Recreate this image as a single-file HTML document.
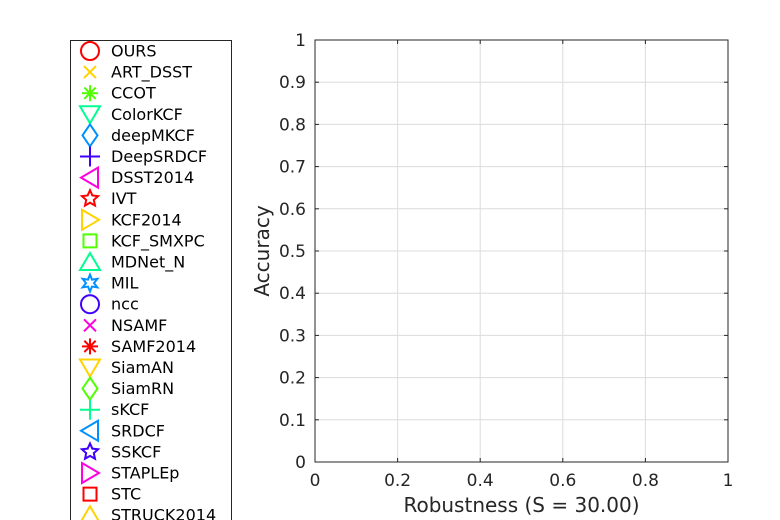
<!DOCTYPE html>
<html><head><meta charset="utf-8"><style>
html,body{margin:0;padding:0;background:#fff;width:780px;height:520px;overflow:hidden}
svg{display:block;font-family:"DejaVu Sans","Liberation Sans",sans-serif}
</style></head><body>
<svg id="chart" width="780" height="520"></svg>
<script>
const xTicks=[0,0.2,0.4,0.6,0.8,1];
const yTicks=[0,0.1,0.2,0.3,0.4,0.5,0.6,0.7,0.8,0.9,1];
const trackers=["OURS","ART_DSST","CCOT","ColorKCF","deepMKCF","DeepSRDCF","DSST2014","IVT","KCF2014","KCF_SMXPC","MDNet_N","MIL","ncc","NSAMF","SAMF2014","SiamAN","SiamRN","sKCF","SRDCF","SSKCF","STAPLEp","STC","STRUCK2014"];
const markers=["o","x","*","v","d","+","<","p",">","s","^","h","o","x","*","v","d","+","<","p",">","s","^"];
const colors=["#ff0000","#ffd200","#50ff00","#00ff90","#0090ff","#4000ff","#ff00e0"];
const robustness=[];
const accuracy=[];
const NS="http://www.w3.org/2000/svg";
const svg=document.getElementById('chart');
const L=315,R=728,T=40,B=462;
const xs=v=>L+(R-L)*v, ys=v=>B-(B-T)*v;
function mk(tag,attrs,parent){const e=document.createElementNS(NS,tag);for(const k in attrs)e.setAttribute(k,attrs[k]);(parent||svg).appendChild(e);return e;}
const ax=mk('g',{});


mk('rect',{x:L,y:T,width:R-L,height:B-T,fill:'#fff'},ax);
xTicks.forEach(t=>{const x=xs(t);
 if(t>0&&t<1)mk('line',{x1:x,y1:T,x2:x,y2:B,stroke:'#dcdcdc','stroke-width':1},ax);
 mk('line',{x1:x,y1:B,x2:x,y2:B-4,stroke:'#262626'},ax);mk('line',{x1:x,y1:T,x2:x,y2:T+4,stroke:'#262626'},ax);
 const tx=mk('text',{x:x,y:B+24,'text-anchor':'middle','font-size':17,fill:'#262626'},ax);tx.textContent=t;
 
 });
yTicks.forEach(t=>{const y=ys(t);
 if(t>0&&t<1)mk('line',{x1:L,y1:y,x2:R,y2:y,stroke:'#dcdcdc','stroke-width':1},ax);
 mk('line',{x1:L,y1:y,x2:L+4,y2:y,stroke:'#262626'},ax);mk('line',{x1:R,y1:y,x2:R-4,y2:y,stroke:'#262626'},ax);
 const tx=mk('text',{x:L-9,y:y+6,'text-anchor':'end','font-size':17,fill:'#262626'},ax);tx.textContent=t;
 
 });
mk('rect',{x:L,y:T,width:R-L,height:B-T,fill:'none',stroke:'#262626','stroke-width':1},ax);
const xt=mk('text',{x:(L+R)/2,y:512,'text-anchor':'middle','font-size':20,fill:'#262626'});xt.textContent='Robustness (S = 30.00)';


const yt=mk('text',{x:0,y:0,'text-anchor':'middle','font-size':20,fill:'#262626',transform:`translate(269,${(T+B)/2}) rotate(-90)`});yt.textContent='Accuracy';


function marker(g,m,cx,cy,c,s){const st={fill:'none',stroke:c,'stroke-width':2};
 const poly=pts=>mk('polygon',Object.assign({points:pts.map(p=>(cx+p[0])+','+(cy+p[1])).join(' ')},st),g);
 if(m==='o')mk('circle',Object.assign({cx,cy,r:s*0.9},st),g);
 else if(m==='x'){mk('line',Object.assign({x1:cx-s*.6,y1:cy-s*.6,x2:cx+s*.6,y2:cy+s*.6},st),g);mk('line',Object.assign({x1:cx-s*.6,y1:cy+s*.6,x2:cx+s*.6,y2:cy-s*.6},st),g);}
 else if(m==='+'){mk('line',Object.assign({x1:cx-s,y1:cy,x2:cx+s,y2:cy},st),g);mk('line',Object.assign({x1:cx,y1:cy-s,x2:cx,y2:cy+s},st),g);}
 else if(m==='*'){for(let a=0;a<4;a++){const an=a*Math.PI/4;mk('line',Object.assign({x1:cx-s*.8*Math.cos(an),y1:cy-s*.8*Math.sin(an),x2:cx+s*.8*Math.cos(an),y2:cy+s*.8*Math.sin(an)},st),g);}}
 else if(m==='v')poly([[-s,-s*.8],[s,-s*.8],[0,s*.9]]);
 else if(m==='^')poly([[-s,s*.8],[s,s*.8],[0,-s*.9]]);
 else if(m==='<')poly([[s*.8,-s],[s*.8,s],[-s*.9,0]]);
 else if(m==='>')poly([[-s*.8,-s],[-s*.8,s],[s*.9,0]]);
 else if(m==='d')poly([[0,-s*1.1],[s*.75,0],[0,s*1.1],[-s*.75,0]]);
 else if(m==='s')poly([[-s*.65,-s*.65],[s*.65,-s*.65],[s*.65,s*.65],[-s*.65,s*.65]]);
 else if(m==='p'||m==='h'){const n=m==='p'?5:6,pts=[];for(let i=0;i<2*n;i++){const r=i%2?s*.4:s*.85,an=-Math.PI/2+i*Math.PI/n;pts.push([r*Math.cos(an),r*Math.sin(an)]);}poly(pts);}
}
robustness.forEach((r,i)=>{const g=mk('g',{});
 
 
 marker(g,markers[i],xs(r),ys(accuracy[i]),colors[i%7],9);});
const lg=mk('g',{});


mk('rect',{x:70.5,y:40.5,width:161,height:500,fill:'#fff',stroke:'#262626','stroke-width':1},lg);
trackers.forEach((n,i)=>{const y=51+21.1*i;const g=mk('g',{},lg);
 
 
 marker(g,markers[i],90,y,colors[i%7],10);
 const t=mk('text',{x:111,y:y+5.5,'font-size':16,fill:'#000'},g);t.textContent=n;});
</script>
</body></html>
